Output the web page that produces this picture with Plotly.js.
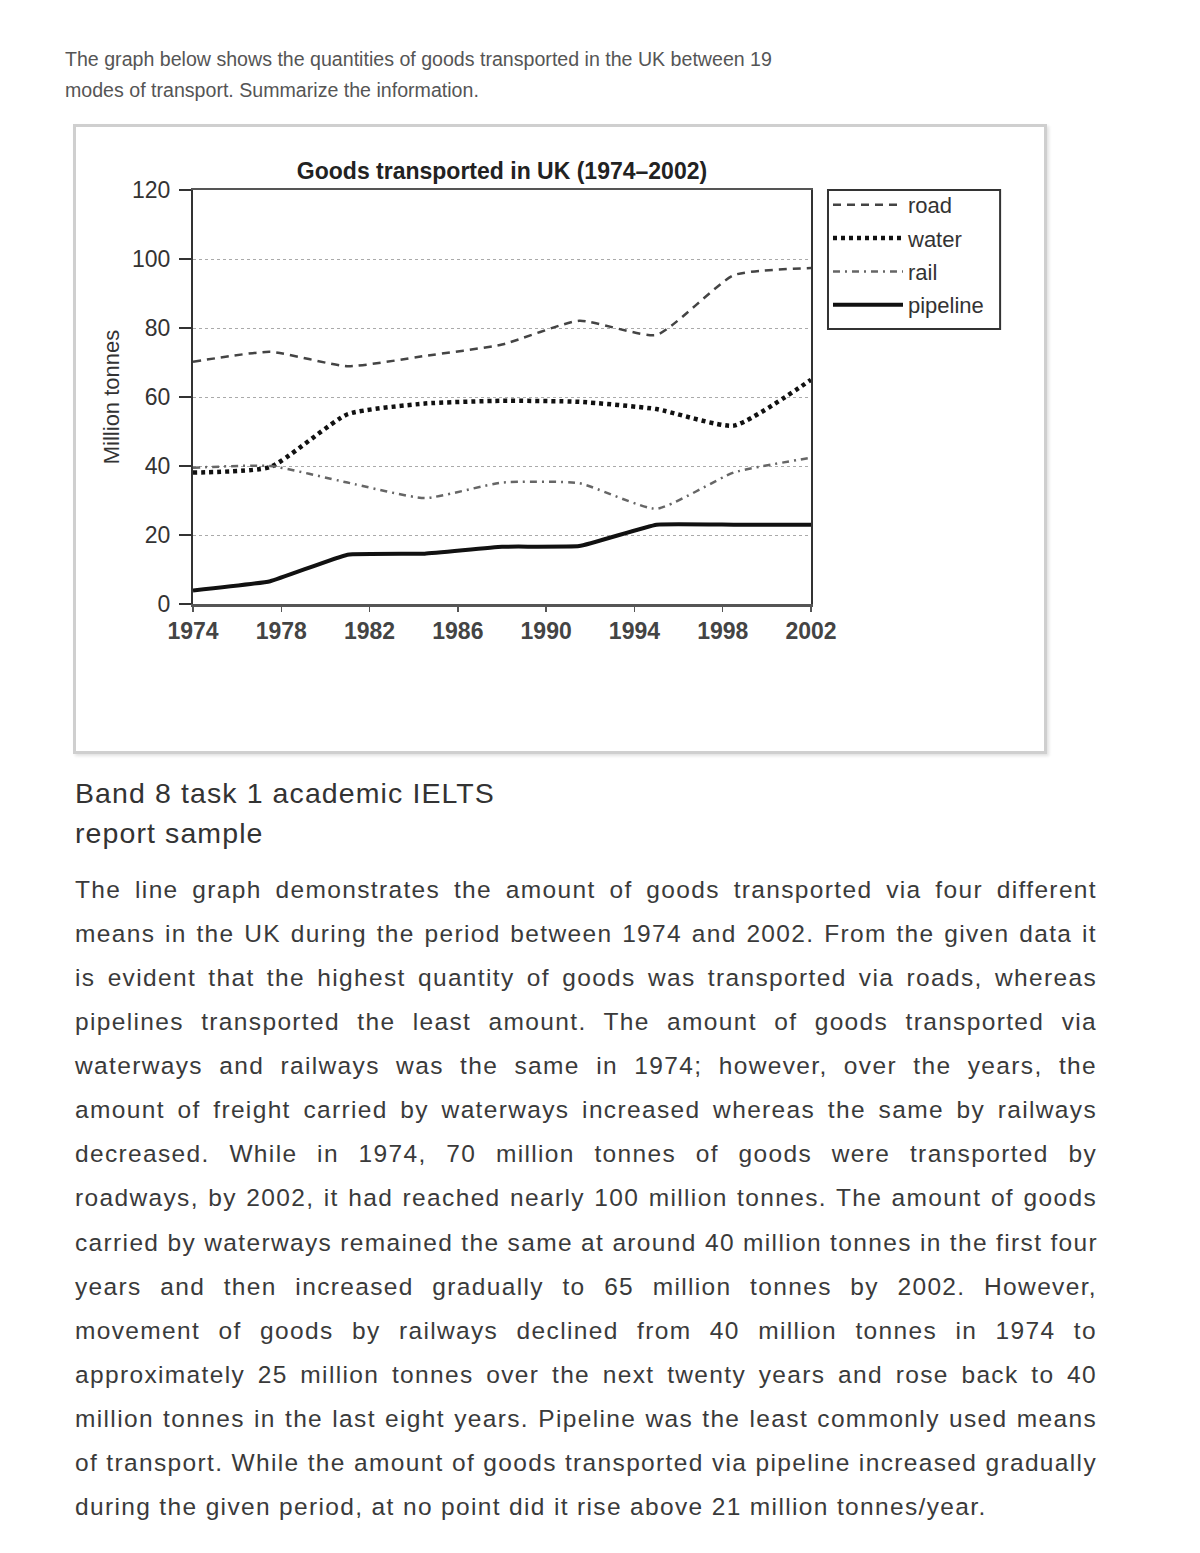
<!DOCTYPE html>
<html>
<head>
<meta charset="utf-8">
<script src="https://cdn.plot.ly/plotly-3.0.1.min.js"></script>
<style>
  html, body { margin: 0; padding: 0; background: #fff; }
  body { width: 1200px; height: 1553px; position: relative; overflow: hidden;
         font-family: Arial, "Liberation Sans", sans-serif; }
  #intro { position: absolute; left: 65px; top: 44px; width: 720px;
           font-size: 19.6px; line-height: 31px; color: #555; white-space: nowrap; }
  #frame { position: absolute; left: 73px; top: 124px; width: 968px; height: 624px;
           border: 3px solid #cfcfcf; box-shadow: 2px 2px 3px #e2e2e2; background: #fff; }
  #chart { position: absolute; left: 0; top: 0; width: 968px; height: 624px; }
  #heading { position: absolute; left: 75px; top: 773px; font-size: 28.5px; line-height: 40px;
             color: #333; letter-spacing: 1.1px; }
  #body { position: absolute; left: 75px; top: 868px; width: 1022px; font-size: 24.5px;
          line-height: 44.07px; color: #3a3a3a; letter-spacing: 1.35px; }
  #body div { white-space: nowrap; text-align: justify; text-align-last: justify; }
  #body div.last { text-align-last: left; }
</style>
</head>
<body>
<div id="intro">
  <div>The graph below shows the quantities of goods transported in the UK between 19</div>
  <div>modes of transport. Summarize the information.</div>
</div>
<div id="frame"><div id="chart"></div></div>
<div id="heading">Band 8 task 1 academic IELTS<br>report sample</div>
<div id="body"></div>
<script>
// ---- data ----
const chartTitle = "Goods transported in UK (1974–2002)";
const yAxisTitle = "Million tonnes";
const years = [1974, 1977.5, 1981, 1984.5, 1988, 1991.5, 1995, 1998.5, 2002];
const road = [70.2, 73.1, 68.9, 71.9, 75.2, 82.1, 78.0, 95.3, 97.4];
const water = [38.1, 39.7, 55.0, 58.1, 58.9, 58.6, 56.5, 51.7, 65.0];
const rail = [39.5, 40.0, 35.2, 30.7, 35.2, 35.0, 27.6, 38.1, 42.4];
const pipeline = [3.9, 6.6, 14.3, 14.6, 16.6, 16.8, 23.0, 23.0, 23.0];
const xTicks = [1974, 1978, 1982, 1986, 1990, 1994, 1998, 2002];
const yTicks = [0, 20, 40, 60, 80, 100, 120];

const bodyLines = [
  "The line graph demonstrates the amount of goods transported via four different",
  "means in the UK during the period between 1974 and 2002. From the given data it",
  "is evident that the highest quantity of goods was transported via roads, whereas",
  "pipelines transported the least amount. The amount of goods transported via",
  "waterways and railways was the same in 1974; however, over the years, the",
  "amount of freight carried by waterways increased whereas the same by railways",
  "decreased. While in 1974, 70 million tonnes of goods were transported by",
  "roadways, by 2002, it had reached nearly 100 million tonnes. The amount of goods",
  "carried by waterways remained the same at around 40 million tonnes in the first four",
  "years and then increased gradually to 65 million tonnes by 2002. However,",
  "movement of goods by railways declined from 40 million tonnes in 1974 to",
  "approximately 25 million tonnes over the next twenty years and rose back to 40",
  "million tonnes in the last eight years. Pipeline was the least commonly used means",
  "of transport. While the amount of goods transported via pipeline increased gradually",
  "during the given period, at no point did it rise above 21 million tonnes/year."
];
const bodyEl = document.getElementById('body');
bodyLines.forEach((t, i) => {
  const d = document.createElement('div');
  d.textContent = t;
  if (i === bodyLines.length - 1) d.className = 'last';
  bodyEl.appendChild(d);
});

const FONT = 'Arial, "Liberation Sans", sans-serif';
const sm = 0.5;
const traces = [
  {x: years, y: road, name: 'road', legendgroup: 'a',
   line: {color: '#444', width: 2.5, dash: '8px,6px', shape: 'spline', smoothing: sm}},
  {x: years, y: water, name: 'water', legendgroup: 'b',
   line: {color: '#111', width: 4.5, dash: '4px,4px', shape: 'spline', smoothing: sm}},
  {x: years, y: rail, name: 'rail', legendgroup: 'c',
   line: {color: '#666', width: 2.5, dash: '7px,5px,2px,5px', shape: 'spline', smoothing: sm}},
  {x: years, y: pipeline, name: 'pipeline', legendgroup: 'd',
   line: {color: '#111', width: 4, shape: 'spline', smoothing: 0.3}}
].map(t => Object.assign({type: 'scatter', mode: 'lines', hoverinfo: 'skip'}, t));

const layout = {
  width: 968, height: 624,
  margin: {l: 117, r: 233, t: 63, b: 147},
  paper_bgcolor: '#fff', plot_bgcolor: '#fff',
  font: {family: FONT, color: '#333'},
  title: {text: '<b>' + chartTitle + '</b>', font: {size: 23, color: '#222'},
          x: 0.5, xref: 'paper', y: 1, yref: 'paper', yanchor: 'bottom', pad: {b: 11}},
  xaxis: {range: [1974, 2002], tickvals: xTicks, ticktext: xTicks.map(v => '<b>' + v + '</b>'),
          showgrid: false, zeroline: false, showline: true, linecolor: '#555', linewidth: 2.5,
          mirror: true, ticks: 'outside', ticklen: 5, tickwidth: 1.5, tickcolor: '#555',
          tickfont: {size: 23, color: '#444'}, fixedrange: true},
  yaxis: {range: [0, 120], tickvals: yTicks, showgrid: true, gridcolor: '#aaa', griddash: 'dot',
          gridwidth: 1, zeroline: false, showline: true, linecolor: '#333', linewidth: 2,
          mirror: true, ticks: 'outside', ticklen: 12, tickwidth: 1.5, tickcolor: '#333',
          ticklabelstandoff: 4, tickfont: {size: 23, color: '#333'},
          title: {text: yAxisTitle, font: {size: 22, color: '#333'}, standoff: 6}, fixedrange: true},
  showlegend: true,
  legend: {x: 1.0275, xanchor: 'left', y: 1.0145, yanchor: 'top', borderwidth: 0,
           bgcolor: 'rgba(0,0,0,0)', font: {size: 22, color: '#333'}, traceorder: 'grouped',
           tracegroupgap: 1.7, itemwidth: 70},
  shapes: [
    {type: 'rect', xref: 'paper', yref: 'paper', x0: 1.0275, x1: 1.306, y0: 0.664, y1: 1.0,
     line: {color: '#333', width: 2}, fillcolor: 'rgba(0,0,0,0)', layer: 'below'}
  ]
};
Plotly.newPlot('chart', traces, layout, {staticPlot: true, displayModeBar: false});
</script>
</body>
</html>
